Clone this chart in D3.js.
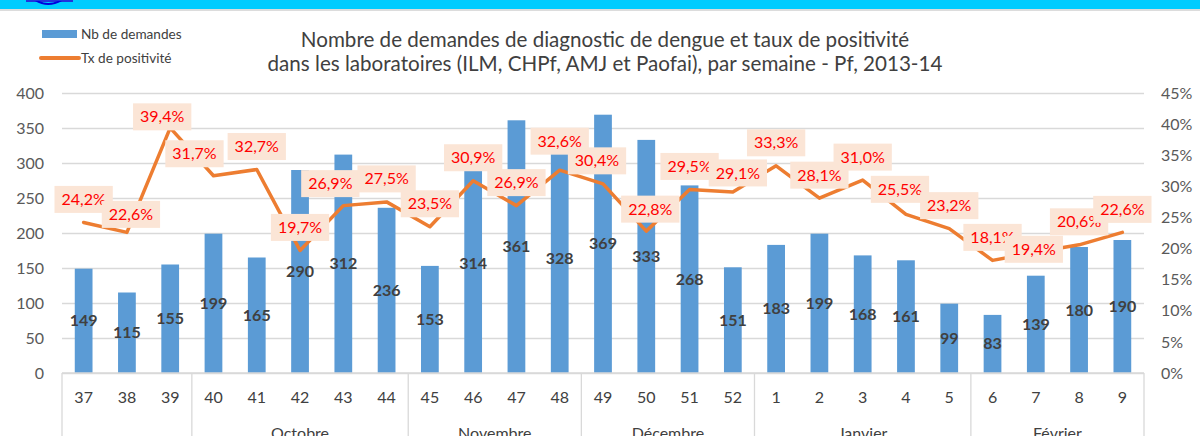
<!DOCTYPE html>
<html>
<head>
<meta charset="utf-8">
<script src="https://cdn.jsdelivr.net/npm/d3@7"></script>
<style>
  html, body { margin: 0; padding: 0; background: #fff; }
  svg { display: block; font-family: Lato, "Noto Sans", sans-serif; }
</style>
</head>
<body>
<div id="chart"></div>
<script>
// weekly dengue requests + positivity rate, Pf 2013-14
const weeks = ['37','38','39','40','41','42','43','44','45','46','47','48','49','50','51','52','1','2','3','4','5','6','7','8','9'];
const demandes = [149,115,155,199,165,290,312,236,153,314,361,328,369,333,268,151,183,199,168,161,99,83,139,180,190];
const positivite = [0.242,0.226,0.394,0.317,0.327,0.197,0.269,0.275,0.235,0.309,0.269,0.326,0.304,0.228,0.295,0.291,0.333,0.281,0.310,0.255,0.232,0.181,0.194,0.206,0.226];
const monthNames = ['', 'Octobre', 'Novembre', 'Décembre', 'Janvier', 'Février'];
const monthWeekCounts = [3, 5, 4, 4, 5, 4];
const leftTicks = [0,50,100,150,200,250,300,350,400];
const rightTicks = [0,0.05,0.10,0.15,0.20,0.25,0.30,0.35,0.40,0.45];

// hand nudges for the rate labels (dx, dy from the point), default sits above
const labelNudge = {1:[4,-18], 2:[-8,-11], 3:[-19,-22], 6:[-13,-22], 11:[0,-29], 12:[-6,-23], 13:[4,-22], 15:[5,-19], 19:[-6,-25], 22:[-2,-3]};

const W = 1200, H = 436;
const ML = 62, MR = 1144, Y0 = 373, Y1 = 93;

const fr = d3.formatLocale({ decimal: ',', thousands: ' ', grouping: [3], currency: ['', ' €'] });
const pct1 = fr.format('.1%');
const pct0 = fr.format('.0%');

const svg = d3.select('#chart').append('svg')
  .attr('width', W).attr('height', H)
  .attr('viewBox', `0 0 ${W} ${H}`);

/* ── banner ── */
svg.append('rect').attr('x', 0).attr('y', 0).attr('width', W).attr('height', 9).attr('fill', '#00ccff');
svg.append('rect').attr('x', 0).attr('y', 9).attr('width', W).attr('height', 2).attr('fill', '#dcdcdc');
svg.append('rect').attr('x', 26).attr('y', 0).attr('width', 47).attr('height', 2).attr('fill', '#2233dd');
svg.append('path').attr('d', 'M35,1 Q48,9 62,1 L58,1 Q48,5 39,1 Z').attr('fill', '#0000dd');

const x = d3.scaleBand().domain(weeks).range([ML, MR]).paddingInner(0.59).paddingOuter(0.295);
const yL = d3.scaleLinear().domain([0, 400]).range([Y0, Y1]);
const yR = d3.scaleLinear().domain([0, 0.45]).range([Y0, Y1]);
const cx = w => x(w) + x.bandwidth() / 2;

/* ── left axis + grid ── */
const gL = svg.append('g').attr('transform', `translate(${ML},0)`)
  .call(d3.axisLeft(yL).tickValues(leftTicks).tickSize(-(MR - ML)).tickPadding(18));
gL.select('.domain').remove();
gL.selectAll('.tick line').attr('stroke', '#d9d9d9').attr('stroke-width', 1.3);
gL.selectAll('.tick text').attr('font-size', 16).attr('fill', '#595959').attr('font-family', 'Lato');

/* ── right axis ── */
const gR = svg.append('g').attr('transform', `translate(${MR},0)`)
  .call(d3.axisRight(yR).tickValues(rightTicks).tickFormat(pct0).tickSize(0).tickPadding(17));
gR.select('.domain').remove();
gR.selectAll('.tick text').attr('font-size', 16).attr('fill', '#595959').attr('font-family', 'Lato');

/* ── bars ── */
svg.append('g').selectAll('rect').data(demandes).join('rect')
  .attr('x', (d, i) => x(weeks[i]))
  .attr('y', d => yL(d))
  .attr('width', x.bandwidth())
  .attr('height', d => Y0 - yL(d))
  .attr('fill', '#5b9bd5');

/* ── x axis (weeks + months) ── */
const gX = svg.append('g').attr('transform', `translate(0,${Y0})`)
  .call(d3.axisBottom(x).tickSize(0).tickPadding(19));
gX.select('.domain').remove();
gX.selectAll('.tick text').attr('font-size', 16).attr('fill', '#404040').attr('font-family', 'Lato');

svg.append('line').attr('x1', ML).attr('x2', MR).attr('y1', Y0).attr('y2', Y0)
  .attr('stroke', '#d9d9d9').attr('stroke-width', 1.5);

let start = 0;
const bounds = [ML];
monthWeekCounts.forEach((n, m) => {
  const a = x(weeks[start]) - x.step() * x.paddingInner() / 2;
  const lastW = weeks[start + n - 1];
  const b = x(lastW) + x.bandwidth() + x.step() * x.paddingInner() / 2;
  bounds.push(b);
  svg.append('text')
    .attr('x', (a + b) / 2).attr('y', 439)
    .attr('text-anchor', 'middle').attr('font-size', 16).attr('fill', '#404040')
    .text(monthNames[m]);
  start += n;
});
svg.append('g').selectAll('line').data(bounds).join('line')
  .attr('x1', d => d).attr('x2', d => d)
  .attr('y1', Y0).attr('y2', H)
  .attr('stroke', '#d9d9d9').attr('stroke-width', 1.3);

/* ── bar value labels ── */
svg.append('g').selectAll('text').data(demandes).join('text')
  .attr('x', (d, i) => cx(weeks[i]))
  .attr('y', d => (yL(d) + Y0) / 2 + 5.5)
  .attr('text-anchor', 'middle')
  .attr('font-size', 16).attr('font-weight', 'bold').attr('fill', '#404040')
  .text(d => d);

/* ── rate line ── */
const line = d3.line().x((d, i) => cx(weeks[i])).y(d => yR(d));
svg.append('path').datum(positivite)
  .attr('d', line)
  .attr('fill', 'none').attr('stroke', '#ed7d31').attr('stroke-width', 3.5)
  .attr('stroke-linejoin', 'round').attr('stroke-linecap', 'round');

/* ── rate labels (drawn in order, later ones cover earlier ones) ── */
positivite.forEach((v, i) => {
  const [dx, dy] = labelNudge[i] || [0, -23];
  const lx = cx(weeks[i]) + dx, ly = yR(v) + dy;
  const g = svg.append('g');
  const r = g.append('rect').attr('fill', '#fbe5d6');
  const t = g.append('text')
    .attr('x', lx).attr('y', ly + 5.6)
    .attr('text-anchor', 'middle')
    .attr('font-size', 16).attr('fill', '#ff0000')
    .text(pct1(v));
  const tw = t.node().getComputedTextLength();
  r.attr('x', lx - tw / 2 - 7).attr('y', ly - 13.5).attr('width', tw + 14).attr('height', 27);
});

/* ── title ── */
const title = svg.append('text').attr('text-anchor', 'middle').attr('font-size', 20.6).attr('fill', '#404040');
title.append('tspan').attr('x', 605).attr('y', 47).text('Nombre de demandes de diagnostic de dengue et taux de positivité');
title.append('tspan').attr('x', 605).attr('y', 71).text('dans les laboratoires (ILM, CHPf, AMJ et Paofai), par semaine - Pf, 2013-14');

/* ── legend ── */
svg.append('rect').attr('x', 42).attr('y', 30).attr('width', 35).attr('height', 8).attr('fill', '#5b9bd5');
svg.append('line').attr('x1', 41).attr('x2', 79).attr('y1', 58).attr('y2', 58)
  .attr('stroke', '#ed7d31').attr('stroke-width', 4).attr('stroke-linecap', 'round');
svg.append('text').attr('x', 81).attr('y', 38.5).attr('font-size', 13.6).attr('fill', '#404040').text('Nb de demandes');
svg.append('text').attr('x', 81).attr('y', 62.5).attr('font-size', 13.6).attr('fill', '#404040').text('Tx de positivité');
</script>
</body>
</html>
